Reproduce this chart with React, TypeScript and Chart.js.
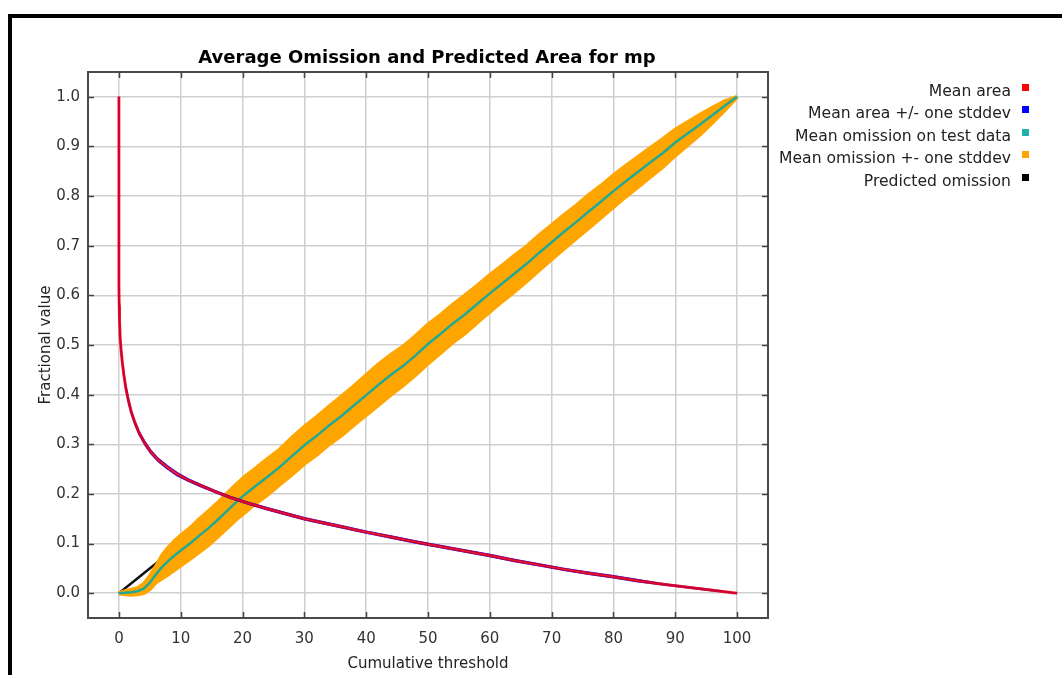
import React, { useEffect, useRef } from "react";
import { Chart, registerables } from "chart.js";

Chart.register(...registerables);

const TITLE = "Average Omission and Predicted Area for mp";
const X_TITLE = "Cumulative threshold";
const Y_TITLE = "Fractional value";

const xTickValues = [0, 10, 20, 30, 40, 50, 60, 70, 80, 90, 100];
const yTickValues = [0, 0.1, 0.2, 0.3, 0.4, 0.5, 0.6, 0.7, 0.8, 0.9, 1.0];

// Mean area (fraction of area predicted) vs cumulative threshold
const areaX = [0, 0, 0.05, 0.1, 0.2, 0.35, 0.55, 0.8, 1.1, 1.5, 2.0, 2.6, 3.3, 4.2, 5.2, 6.4, 7.8, 9.4, 11.2, 13.2, 15.5, 18, 21, 24, 27, 30, 33, 36, 40, 44, 48, 52, 56, 60, 64, 68, 72, 76, 80, 84, 88, 92, 96, 100];
const areaMean = [1.0, 0.62, 0.58, 0.55, 0.515, 0.49, 0.465, 0.44, 0.415, 0.39, 0.365, 0.343, 0.322, 0.302, 0.284, 0.268, 0.254, 0.24, 0.228, 0.217, 0.205, 0.193, 0.181, 0.17, 0.16, 0.15, 0.142, 0.134, 0.123, 0.113, 0.103, 0.094, 0.085, 0.076, 0.066, 0.057, 0.048, 0.04, 0.033, 0.025, 0.018, 0.012, 0.006, 0];
const areaSd = [0, 0, 0.004, 0.004, 0.004, 0.004, 0.004, 0.004, 0.004, 0.004, 0.003, 0.003, 0.003, 0.003, 0.003, 0.003, 0.003, 0.003, 0.002, 0.002, 0.002, 0.002, 0.002, 0.002, 0.002, 0.002, 0.002, 0.002, 0.002, 0.002, 0.002, 0.002, 0.002, 0.002, 0.002, 0.002, 0.002, 0.002, 0.002, 0.002, 0.001, 0.001, 0.001, 0];

// Mean omission on test data vs cumulative threshold
const omX = [0, 1, 2, 3, 4, 5, 6, 7, 8, 9, 10, 11.5, 13, 14.5, 16, 17.5, 19, 20.5, 22, 24, 26, 28, 30, 32, 34, 36, 38, 40, 42, 44, 46, 48, 50, 52, 54, 56, 58, 60, 62, 64, 66, 68, 70, 72, 74, 76, 78, 80, 82, 84, 86, 88, 90, 92, 94, 96, 98, 100];
const omMean = [0, 0.001, 0.002, 0.004, 0.009, 0.021, 0.038, 0.053, 0.065, 0.076, 0.086, 0.1, 0.116, 0.131, 0.148, 0.166, 0.184, 0.2, 0.215, 0.234, 0.254, 0.276, 0.298, 0.317, 0.338, 0.357, 0.378, 0.399, 0.42, 0.44, 0.458, 0.479, 0.502, 0.522, 0.543, 0.562, 0.583, 0.604, 0.624, 0.644, 0.664, 0.686, 0.707, 0.728, 0.748, 0.769, 0.789, 0.81, 0.83, 0.849, 0.868, 0.887, 0.908, 0.926, 0.944, 0.963, 0.982, 1.0];
const omSd = [0, 0.003, 0.005, 0.006, 0.009, 0.013, 0.016, 0.023, 0.027, 0.029, 0.03, 0.031, 0.033, 0.034, 0.034, 0.035, 0.035, 0.036, 0.035, 0.036, 0.035, 0.037, 0.037, 0.038, 0.038, 0.039, 0.039, 0.04, 0.041, 0.04, 0.039, 0.039, 0.039, 0.038, 0.038, 0.038, 0.037, 0.037, 0.036, 0.036, 0.035, 0.035, 0.034, 0.034, 0.033, 0.033, 0.032, 0.032, 0.031, 0.03, 0.029, 0.028, 0.026, 0.023, 0.02, 0.015, 0.009, 0];

// Predicted omission
const predX = [0, 100];
const predY = [0, 1];

const legendLabels = ["Mean area", "Mean area +/- one stddev", "Mean omission on test data", "Mean omission +- one stddev", "Predicted omission"];
const legendColors = ["#ff0000", "#0000ff", "#20b2aa", "#ffa500", "#000000"];

const FONT = '"DejaVu Sans", sans-serif';

const pts = (xs: number[], ys: number[]) => xs.map((x, i) => ({ x, y: ys[i] }));

const decorPlugin = {
  id: "decor",
  afterDraw(chart: any) {
    const { ctx, chartArea: a, scales } = chart;
    ctx.save();
    // plot frame
    ctx.strokeStyle = "#4a4a4a";
    ctx.lineWidth = 2;
    ctx.strokeRect(a.left, a.top, a.right - a.left, a.bottom - a.top);
    // inward tick marks on all four sides
    ctx.lineWidth = 1.5;
    ctx.strokeStyle = "#444";
    ctx.beginPath();
    for (const t of scales.x.ticks) {
      const px = Math.round(scales.x.getPixelForValue(t.value)) + 0.5;
      ctx.moveTo(px, a.bottom);
      ctx.lineTo(px, a.bottom - 6);
      ctx.moveTo(px, a.top);
      ctx.lineTo(px, a.top + 6);
    }
    for (const t of scales.y.ticks) {
      const py = Math.round(scales.y.getPixelForValue(t.value)) + 0.5;
      ctx.moveTo(a.left, py);
      ctx.lineTo(a.left + 6, py);
      ctx.moveTo(a.right, py);
      ctx.lineTo(a.right - 6, py);
    }
    ctx.stroke();
    // title
    ctx.fillStyle = "#000";
    ctx.font = "bold 18px " + FONT;
    ctx.textAlign = "center";
    ctx.textBaseline = "alphabetic";
    ctx.fillText(TITLE, (a.left + a.right) / 2 - 1, 45);
    // legend
    ctx.font = "15.6px " + FONT;
    ctx.textAlign = "right";
    legendLabels.forEach((label, i) => {
      const base = 77.5 + i * 22.6;
      ctx.fillStyle = "#222";
      ctx.fillText(label, 999, base);
      ctx.fillStyle = legendColors[i];
      ctx.fillRect(1010, Math.round(base - 12), 7, 7);
    });
    ctx.restore();
  },
};

export default function App() {
  const ref = useRef<HTMLCanvasElement>(null);
  useEffect(() => {
    const areaUpper = areaMean.map((v, i) => Math.min(1, v + areaSd[i]));
    const areaLower = areaMean.map((v, i) => Math.max(0, v - areaSd[i]));
    const omUpper = omMean.map((v, i) => v + omSd[i]);
    const omLower = omMean.map((v, i) => v - omSd[i]);
    const common = { pointRadius: 0, pointHoverRadius: 0, tension: 0, fill: false };
    const chart = new Chart(ref.current as HTMLCanvasElement, {
      type: "line",
      data: {
        datasets: [
          { ...common, label: legendLabels[0], data: pts(areaX, areaMean), borderColor: "rgba(255,0,0,0.8)", borderWidth: 3 },
          { ...common, label: legendLabels[1], data: pts(areaX, areaUpper), borderColor: "#0000ff", borderWidth: 1.5 },
          { ...common, label: legendLabels[1], data: pts(areaX, areaLower), borderColor: "#0000ff", borderWidth: 1.5 },
          { ...common, label: legendLabels[2], data: pts(omX, omMean), borderColor: "rgb(32,170,150)", borderWidth: 2.5 },
          { ...common, label: legendLabels[3], data: pts(omX, omUpper), borderColor: "#ffa500", borderWidth: 4 },
          { ...common, label: legendLabels[3], data: pts(omX, omLower), borderColor: "#ffa500", borderWidth: 4, fill: "-1", backgroundColor: "#ffa500" },
          { ...common, label: legendLabels[4], data: pts(predX, predY), borderColor: "#111", borderWidth: 2.5 },
        ],
      },
      options: {
        responsive: false,
        devicePixelRatio: 1,
        animation: false,
        events: [],
        layout: { padding: { left: 0, top: 54, right: 294, bottom: 0 } },
        plugins: { legend: { display: false }, title: { display: false }, tooltip: { enabled: false } },
        scales: {
          x: {
            type: "linear",
            min: -5,
            max: 105,
            afterBuildTicks: (s: any) => { s.ticks = xTickValues.map((v) => ({ value: v })); },
            afterFit: (s: any) => { s.height = 57; },
            grid: { color: "#cfcfcf", lineWidth: 1.5, drawTicks: false },
            border: { display: false },
            ticks: { color: "#333", font: { family: FONT, size: 15 }, padding: 12, maxRotation: 0, callback: (v: any) => String(v) },
            title: { display: true, text: X_TITLE, color: "#222", font: { family: FONT, size: 15 }, padding: { top: 0, bottom: 2 } },
          },
          y: {
            type: "linear",
            min: -0.05,
            max: 1.05,
            afterBuildTicks: (s: any) => { s.ticks = yTickValues.map((v) => ({ value: v })); },
            afterFit: (s: any) => { s.width = 76; },
            grid: { color: "#cfcfcf", lineWidth: 1.5, drawTicks: false },
            border: { display: false },
            ticks: { color: "#333", font: { family: FONT, size: 15 }, padding: 8, callback: (v: any) => Number(v).toFixed(1) },
            title: { display: true, text: Y_TITLE, color: "#222", font: { family: FONT, size: 15 }, padding: { top: 25, bottom: 0 } },
          },
        },
      },
      plugins: [decorPlugin],
    } as any);
    return () => chart.destroy();
  }, []);
  return (
    <div
      style={{
        position: "fixed",
        left: 8,
        top: 14,
        width: 1050,
        height: 657,
        borderLeft: "4px solid #000",
        borderTop: "4px solid #000",
        background: "#fff",
        overflow: "hidden",
      }}
    >
      <canvas ref={ref} width={1050} height={657} style={{ display: "block", width: 1050, height: 657 }} />
    </div>
  );
}
